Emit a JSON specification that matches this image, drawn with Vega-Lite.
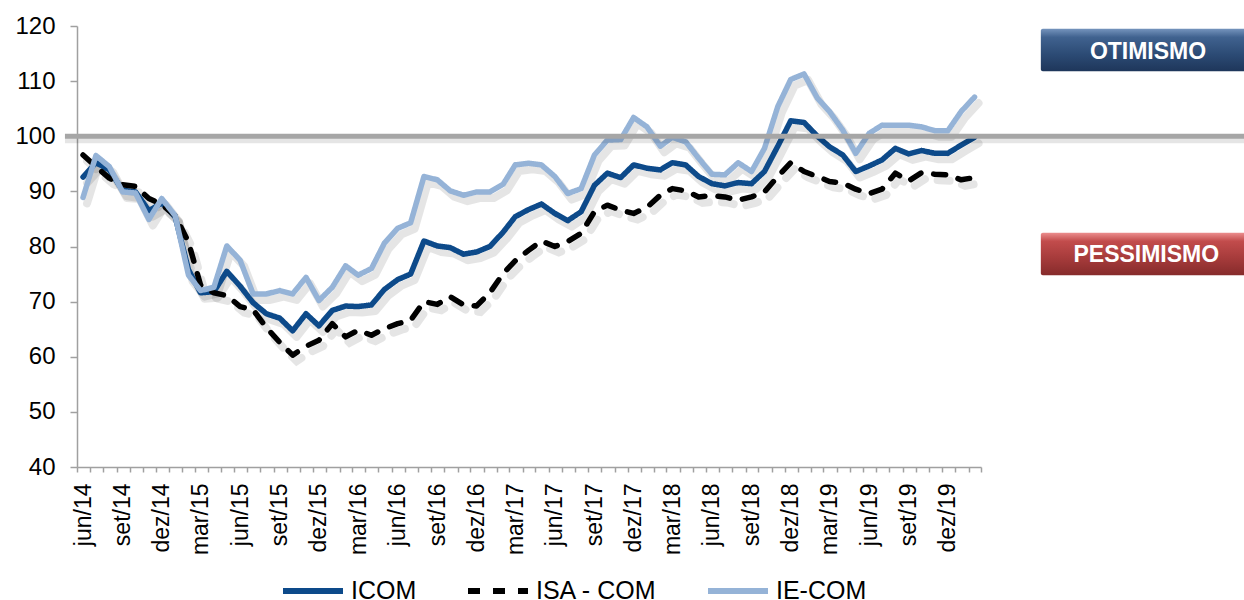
{
  "$schema": "https://vega.github.io/schema/vega-lite/v6.json",
  "width": 904,
  "height": 441,
  "autosize": "none",
  "padding": {"left": 77, "top": 26, "right": 263, "bottom": 133},
  "background": "white",
  "datasets": {
    "indices": [
      {"mes": "2014-06-15", "ICOM": 92.6, "ISA - COM": 96.6, "IE-COM": 88.9},
      {"mes": "2014-07-15", "ICOM": 95.2, "ISA - COM": 94.5, "IE-COM": 96.5},
      {"mes": "2014-08-15", "ICOM": 93.9, "ISA - COM": 92.4, "IE-COM": 94.5},
      {"mes": "2014-09-15", "ICOM": 90.2, "ISA - COM": 91.2, "IE-COM": 89.9},
      {"mes": "2014-10-15", "ICOM": 89.9, "ISA - COM": 90.9, "IE-COM": 89.7},
      {"mes": "2014-11-15", "ICOM": 86.5, "ISA - COM": 88.7, "IE-COM": 84.9},
      {"mes": "2014-12-15", "ICOM": 87.9, "ISA - COM": 87.6, "IE-COM": 88.7},
      {"mes": "2015-01-15", "ICOM": 85.4, "ISA - COM": 85.6, "IE-COM": 85.6},
      {"mes": "2015-02-15", "ICOM": 75.8, "ISA - COM": 80.8, "IE-COM": 74.8},
      {"mes": "2015-03-15", "ICOM": 71.6, "ISA - COM": 73.0, "IE-COM": 72.0},
      {"mes": "2015-04-15", "ICOM": 71.8, "ISA - COM": 71.6, "IE-COM": 72.6},
      {"mes": "2015-05-15", "ICOM": 75.5, "ISA - COM": 71.1, "IE-COM": 80.1},
      {"mes": "2015-06-15", "ICOM": 72.8, "ISA - COM": 69.1, "IE-COM": 77.5},
      {"mes": "2015-07-15", "ICOM": 69.8, "ISA - COM": 68.5, "IE-COM": 71.4},
      {"mes": "2015-08-15", "ICOM": 67.8, "ISA - COM": 65.3, "IE-COM": 71.4},
      {"mes": "2015-09-15", "ICOM": 67.0, "ISA - COM": 62.6, "IE-COM": 72.0},
      {"mes": "2015-10-15", "ICOM": 64.7, "ISA - COM": 60.3, "IE-COM": 71.4},
      {"mes": "2015-11-15", "ICOM": 67.8, "ISA - COM": 61.9, "IE-COM": 74.4},
      {"mes": "2015-12-15", "ICOM": 65.6, "ISA - COM": 63.0, "IE-COM": 70.2},
      {"mes": "2016-01-15", "ICOM": 68.4, "ISA - COM": 66.0, "IE-COM": 72.6},
      {"mes": "2016-02-15", "ICOM": 69.2, "ISA - COM": 63.6, "IE-COM": 76.5},
      {"mes": "2016-03-15", "ICOM": 69.1, "ISA - COM": 64.8, "IE-COM": 74.8},
      {"mes": "2016-04-15", "ICOM": 69.4, "ISA - COM": 63.9, "IE-COM": 76.0},
      {"mes": "2016-05-15", "ICOM": 72.2, "ISA - COM": 65.1, "IE-COM": 80.6},
      {"mes": "2016-06-15", "ICOM": 74.0, "ISA - COM": 66.0, "IE-COM": 83.3},
      {"mes": "2016-07-15", "ICOM": 75.0, "ISA - COM": 66.6, "IE-COM": 84.3},
      {"mes": "2016-08-15", "ICOM": 81.0, "ISA - COM": 70.0, "IE-COM": 92.7},
      {"mes": "2016-09-15", "ICOM": 80.1, "ISA - COM": 69.5, "IE-COM": 92.1},
      {"mes": "2016-10-15", "ICOM": 79.8, "ISA - COM": 70.9, "IE-COM": 90.1},
      {"mes": "2016-11-15", "ICOM": 78.6, "ISA - COM": 69.4, "IE-COM": 89.3},
      {"mes": "2016-12-15", "ICOM": 79.0, "ISA - COM": 69.2, "IE-COM": 89.9},
      {"mes": "2017-01-15", "ICOM": 80.0, "ISA - COM": 71.6, "IE-COM": 89.9},
      {"mes": "2017-02-15", "ICOM": 82.6, "ISA - COM": 75.1, "IE-COM": 91.3},
      {"mes": "2017-03-15", "ICOM": 85.4, "ISA - COM": 77.4, "IE-COM": 94.8},
      {"mes": "2017-04-15", "ICOM": 86.7, "ISA - COM": 79.3, "IE-COM": 95.1},
      {"mes": "2017-05-15", "ICOM": 87.7, "ISA - COM": 81.0, "IE-COM": 94.8},
      {"mes": "2017-06-15", "ICOM": 86.0, "ISA - COM": 80.0, "IE-COM": 92.7},
      {"mes": "2017-07-15", "ICOM": 84.7, "ISA - COM": 80.9, "IE-COM": 89.6},
      {"mes": "2017-08-15", "ICOM": 86.3, "ISA - COM": 82.4, "IE-COM": 90.5},
      {"mes": "2017-09-15", "ICOM": 91.1, "ISA - COM": 86.3, "IE-COM": 96.6},
      {"mes": "2017-10-15", "ICOM": 93.3, "ISA - COM": 87.5, "IE-COM": 99.3},
      {"mes": "2017-11-15", "ICOM": 92.5, "ISA - COM": 86.6, "IE-COM": 99.4},
      {"mes": "2017-12-15", "ICOM": 94.8, "ISA - COM": 86.0, "IE-COM": 103.4},
      {"mes": "2018-01-15", "ICOM": 94.2, "ISA - COM": 87.1, "IE-COM": 101.7},
      {"mes": "2018-02-15", "ICOM": 93.9, "ISA - COM": 89.3, "IE-COM": 98.2},
      {"mes": "2018-03-15", "ICOM": 95.2, "ISA - COM": 90.5, "IE-COM": 99.8},
      {"mes": "2018-04-15", "ICOM": 94.8, "ISA - COM": 90.1, "IE-COM": 99.0},
      {"mes": "2018-05-15", "ICOM": 92.7, "ISA - COM": 89.0, "IE-COM": 96.0},
      {"mes": "2018-06-15", "ICOM": 91.4, "ISA - COM": 89.2, "IE-COM": 93.1},
      {"mes": "2018-07-15", "ICOM": 91.0, "ISA - COM": 89.0, "IE-COM": 93.0},
      {"mes": "2018-08-15", "ICOM": 91.6, "ISA - COM": 88.4, "IE-COM": 95.2},
      {"mes": "2018-09-15", "ICOM": 91.4, "ISA - COM": 89.0, "IE-COM": 93.6},
      {"mes": "2018-10-15", "ICOM": 93.6, "ISA - COM": 89.9, "IE-COM": 97.8},
      {"mes": "2018-11-15", "ICOM": 98.2, "ISA - COM": 92.7, "IE-COM": 105.4},
      {"mes": "2018-12-15", "ICOM": 102.8, "ISA - COM": 95.2, "IE-COM": 110.3},
      {"mes": "2019-01-15", "ICOM": 102.5, "ISA - COM": 93.6, "IE-COM": 111.3},
      {"mes": "2019-02-15", "ICOM": 100.0, "ISA - COM": 92.7, "IE-COM": 106.9},
      {"mes": "2019-03-15", "ICOM": 98.1, "ISA - COM": 91.8, "IE-COM": 104.5},
      {"mes": "2019-04-15", "ICOM": 96.6, "ISA - COM": 91.5, "IE-COM": 101.1},
      {"mes": "2019-05-15", "ICOM": 93.6, "ISA - COM": 90.4, "IE-COM": 96.9},
      {"mes": "2019-06-15", "ICOM": 94.6, "ISA - COM": 89.6, "IE-COM": 100.5},
      {"mes": "2019-07-15", "ICOM": 95.7, "ISA - COM": 90.4, "IE-COM": 102.0},
      {"mes": "2019-08-15", "ICOM": 97.8, "ISA - COM": 93.3, "IE-COM": 102.0},
      {"mes": "2019-09-15", "ICOM": 96.8, "ISA - COM": 91.9, "IE-COM": 102.0},
      {"mes": "2019-10-15", "ICOM": 97.4, "ISA - COM": 93.4, "IE-COM": 101.7},
      {"mes": "2019-11-15", "ICOM": 96.9, "ISA - COM": 93.1, "IE-COM": 101.0},
      {"mes": "2019-12-15", "ICOM": 96.9, "ISA - COM": 93.0, "IE-COM": 101.0},
      {"mes": "2020-01-15", "ICOM": 98.4, "ISA - COM": 92.1, "IE-COM": 104.5},
      {"mes": "2020-02-15", "ICOM": 99.8, "ISA - COM": 92.5, "IE-COM": 107.1}
    ],
    "referencia": [
      {"nivel": 100, "inicio": "2014-05-04", "fim": "2022-03-01"}
    ],
    "faixas": [
      {"rotulo": "OTIMISMO", "inicio": "2020-07-18", "fim": "2022-03-01", "centro": "2021-03-24", "topo": 119.5, "base": 111.8, "meio": 115.2},
      {"rotulo": "PESSIMISMO", "inicio": "2020-07-18", "fim": "2022-03-01", "centro": "2021-03-20", "topo": 82.5, "base": 74.8, "meio": 78.5}
    ]
  },
  "config": {
    "font": "Liberation Sans",
    "view": {"stroke": null},
    "axis": {
      "grid": false,
      "domainColor": "#A0A0A0",
      "domainWidth": 1.5,
      "tickColor": "#A0A0A0",
      "tickWidth": 1.5,
      "labelColor": "#000000",
      "labelFont": "Liberation Sans"
    },
    "axisX": {
      "tickCount": {"interval": "month", "step": 1},
      "tickSize": 5,
      "labelAngle": -90,
      "labelFontSize": 23,
      "labelPadding": 11,
      "labelOffset": 6,
      "labelFlush": false,
      "labelOverlap": false,
      "labelBound": false
    },
    "axisY": {
      "tickSize": 7,
      "labelFontSize": 24,
      "labelPadding": 15
    },
    "legend": {
      "orient": "none",
      "legendX": 203,
      "legendY": 532,
      "direction": "horizontal",
      "padding": 0,
      "symbolType": "stroke",
      "symbolSize": 3600,
      "symbolStrokeWidth": 6,
      "labelFontSize": 25,
      "labelFont": "Liberation Sans",
      "labelColor": "#000000",
      "labelOffset": 5,
      "columnPadding": 39
    }
  },
  "layer": [
    {
      "data": {"name": "indices"},
      "transform": [
        {"fold": ["ICOM", "ISA - COM", "IE-COM"], "as": ["serie", "valor"]},
        {"filter": "datum.serie !== 'ISA - COM'"}
      ],
      "mark": {"type": "line", "color": "#000000", "opacity": 0.1, "strokeWidth": 8, "strokeJoin": "round", "strokeCap": "round", "xOffset": 4, "yOffset": 6},
      "encoding": {
        "x": {
          "field": "mes",
          "type": "temporal",
          "title": null,
          "scale": {"domain": [{"year": 2014, "month": 6, "date": 1}, {"year": 2020, "month": 3, "date": 1}]},
          "axis": {
            "labelExpr": "month(datum.value) % 3 == 2 && year(datum.value) < 2020 ? ['jan','fev','mar','abr','mai','jun','jul','ago','set','out','nov','dez'][month(datum.value)] + '/' + timeFormat(datum.value, '%y') : ''"
          }
        },
        "y": {
          "field": "valor",
          "type": "quantitative",
          "title": null,
          "scale": {"domain": [40, 120], "nice": false},
          "axis": {"values": [40, 50, 60, 70, 80, 90, 100, 110, 120]}
        },
        "detail": {"field": "serie"}
      }
    },
    {
      "data": {"name": "indices"},
      "transform": [
        {"fold": ["ISA - COM"], "as": ["serie", "valor"]}
      ],
      "mark": {"type": "line", "color": "#000000", "opacity": 0.1, "strokeWidth": 8, "strokeCap": "round", "strokeDash": [12, 13], "xOffset": 4, "yOffset": 6},
      "encoding": {
        "x": {"field": "mes", "type": "temporal", "title": null, "scale": {"domain": [{"year": 2014, "month": 6, "date": 1}, {"year": 2020, "month": 3, "date": 1}]}},
        "y": {"field": "valor", "type": "quantitative", "title": null, "scale": {"domain": [40, 120], "nice": false}}
      }
    },
    {
      "data": {"name": "indices"},
      "transform": [
        {"fold": ["ICOM", "ISA - COM", "IE-COM"], "as": ["serie", "valor"]}
      ],
      "mark": {"type": "line", "strokeWidth": 5.5, "strokeJoin": "round", "strokeCap": "round"},
      "encoding": {
        "x": {"field": "mes", "type": "temporal", "title": null, "scale": {"domain": [{"year": 2014, "month": 6, "date": 1}, {"year": 2020, "month": 3, "date": 1}]}},
        "y": {"field": "valor", "type": "quantitative", "title": null, "scale": {"domain": [40, 120], "nice": false}},
        "color": {
          "field": "serie",
          "type": "nominal",
          "title": null,
          "scale": {"domain": ["ICOM", "ISA - COM", "IE-COM"], "range": ["#0D4A8A", "#000000", "#95B3D7"]}
        },
        "strokeDash": {
          "field": "serie",
          "type": "nominal",
          "title": null,
          "scale": {"domain": ["ICOM", "ISA - COM", "IE-COM"], "range": [[1, 0], [12, 13], [1, 0]]}
        }
      }
    },
    {
      "data": {"name": "referencia"},
      "mark": {"type": "rule", "color": "#000000", "opacity": 0.1, "strokeWidth": 6, "yOffset": 4},
      "encoding": {
        "x": {"field": "inicio", "type": "temporal", "title": null, "scale": {"domain": [{"year": 2014, "month": 6, "date": 1}, {"year": 2020, "month": 3, "date": 1}]}},
        "x2": {"field": "fim"},
        "y": {"field": "nivel", "type": "quantitative", "title": null, "scale": {"domain": [40, 120], "nice": false}}
      }
    },
    {
      "data": {"name": "referencia"},
      "mark": {"type": "rule", "color": "#A6A6A6", "strokeWidth": 5},
      "encoding": {
        "x": {"field": "inicio", "type": "temporal", "title": null, "scale": {"domain": [{"year": 2014, "month": 6, "date": 1}, {"year": 2020, "month": 3, "date": 1}]}},
        "x2": {"field": "fim"},
        "y": {"field": "nivel", "type": "quantitative", "title": null, "scale": {"domain": [40, 120], "nice": false}}
      }
    },
    {
      "data": {"name": "faixas"},
      "transform": [{"filter": "datum.rotulo === 'OTIMISMO'"}],
      "mark": {
        "type": "rect",
        "cornerRadius": 2,
        "color": {
          "gradient": "linear",
          "x1": 0, "y1": 0, "x2": 0, "y2": 1,
          "stops": [
            {"offset": 0, "color": "#7594BD"},
            {"offset": 0.2, "color": "#40628F"},
            {"offset": 0.6, "color": "#2C4B75"},
            {"offset": 1, "color": "#1E365A"}
          ]
        }
      },
      "encoding": {
        "x": {"field": "inicio", "type": "temporal", "title": null, "scale": {"domain": [{"year": 2014, "month": 6, "date": 1}, {"year": 2020, "month": 3, "date": 1}]}},
        "x2": {"field": "fim"},
        "y": {"field": "topo", "type": "quantitative", "title": null, "scale": {"domain": [40, 120], "nice": false}},
        "y2": {"field": "base"}
      }
    },
    {
      "data": {"name": "faixas"},
      "transform": [{"filter": "datum.rotulo === 'PESSIMISMO'"}],
      "mark": {
        "type": "rect",
        "cornerRadius": 2,
        "color": {
          "gradient": "linear",
          "x1": 0, "y1": 0, "x2": 0, "y2": 1,
          "stops": [
            {"offset": 0, "color": "#EC8E8E"},
            {"offset": 0.2, "color": "#C24C4C"},
            {"offset": 0.6, "color": "#A63B3B"},
            {"offset": 1, "color": "#862B2B"}
          ]
        }
      },
      "encoding": {
        "x": {"field": "inicio", "type": "temporal", "title": null, "scale": {"domain": [{"year": 2014, "month": 6, "date": 1}, {"year": 2020, "month": 3, "date": 1}]}},
        "x2": {"field": "fim"},
        "y": {"field": "topo", "type": "quantitative", "title": null, "scale": {"domain": [40, 120], "nice": false}},
        "y2": {"field": "base"}
      }
    },
    {
      "data": {"name": "faixas"},
      "mark": {"type": "text", "color": "#FFFFFF", "fontSize": 23, "fontWeight": "bold", "font": "Liberation Sans", "align": "center", "baseline": "middle"},
      "encoding": {
        "x": {"field": "centro", "type": "temporal", "title": null, "scale": {"domain": [{"year": 2014, "month": 6, "date": 1}, {"year": 2020, "month": 3, "date": 1}]}},
        "y": {"field": "meio", "type": "quantitative", "title": null, "scale": {"domain": [40, 120], "nice": false}},
        "text": {"field": "rotulo"}
      }
    }
  ]
}
